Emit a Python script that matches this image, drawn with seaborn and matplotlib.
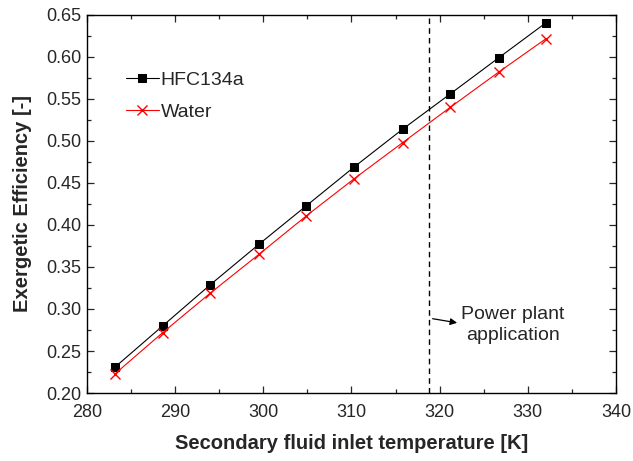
import numpy as np
import pandas as pd
import matplotlib
matplotlib.use("Agg")
import matplotlib.pyplot as plt
import seaborn as sns
from matplotlib.ticker import MultipleLocator

# Data
temperature = [283.2, 288.6, 294.0, 299.5, 304.9, 310.3, 315.8, 321.2, 326.7, 332.1]
hfc134a = [0.231, 0.280, 0.329, 0.377, 0.423, 0.469, 0.514, 0.556, 0.599, 0.641]
water = [0.223, 0.272, 0.319, 0.365, 0.411, 0.455, 0.498, 0.540, 0.582, 0.622]
series_names = ["HFC134a", "Water"]
x_ticks = [280, 290, 300, 310, 320, 330, 340]
y_ticks = [0.20, 0.25, 0.30, 0.35, 0.40, 0.45, 0.50, 0.55, 0.60, 0.65]
power_plant_T = 318.8

sns.set_style("ticks")
plt.rcParams["font.family"] = ["Liberation Sans", "DejaVu Sans"]

fig = plt.figure(figsize=(6.33, 4.61), dpi=100)
ax = fig.add_axes([0.1374, 0.1475, 0.8356, 0.82])

sns.lineplot(x=temperature, y=hfc134a, color="black", marker="s", markersize=6.3,
             markerfacecolor="black", markeredgecolor="black",
             linewidth=0.8, label=series_names[0], ax=ax)
sns.lineplot(x=temperature, y=water, color="red", marker="x", markersize=6.5,
             markeredgewidth=1.0, markeredgecolor="red",
             linewidth=0.8, label=series_names[1], ax=ax)

ax.axvline(power_plant_T, color="black", linestyle="--", linewidth=1.0, dashes=(4, 3))
ax.annotate("", xy=(322.3, 0.283), xytext=(318.9, 0.289),
            arrowprops=dict(arrowstyle="-|>", color="black", lw=0.9, mutation_scale=10))
ax.text(328.3, 0.281, "Power plant\napplication", ha="center", va="center",
        fontsize=14, linespacing=1.3)

ax.set_xlim(280, 340)
ax.set_ylim(0.20, 0.65)
ax.set_xticks(x_ticks)
ax.set_yticks(y_ticks)
ax.set_yticklabels([f"{v:.2f}" for v in y_ticks])
ax.xaxis.set_minor_locator(MultipleLocator(5))
ax.yaxis.set_minor_locator(MultipleLocator(0.025))
ax.tick_params(which="both", direction="in", top=True, right=True, labelsize=13, width=0.9)
ax.tick_params(which="major", length=5)
ax.tick_params(which="minor", length=3)
ax.tick_params(axis="x", pad=8)
ax.tick_params(axis="y", pad=4)
for s in ax.spines.values():
    s.set_linewidth(1.0)
    s.set_color("black")

ax.set_xlabel("Secondary fluid inlet temperature [K]", fontsize=14.5, fontweight="bold", labelpad=9)
ax.set_ylabel("Exergetic Efficiency [-]", fontsize=14.5, fontweight="bold", labelpad=10)

handles, labels = ax.get_legend_handles_labels()
ax.legend(handles, labels, loc="upper left", bbox_to_anchor=(0.04, 0.897), frameon=False,
          fontsize=14, handlelength=1.7, handletextpad=0.1, labelspacing=0.75)

fig.savefig("out.png", dpi=100)
